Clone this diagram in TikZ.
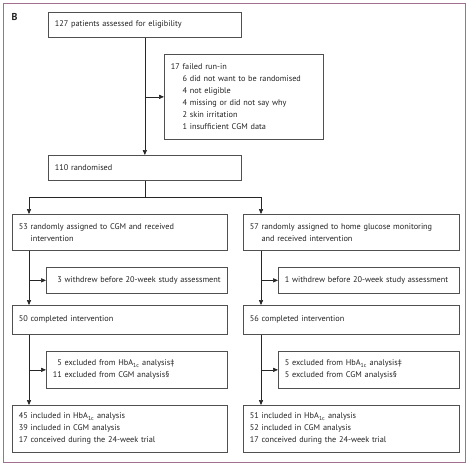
\documentclass[tikz,border=0pt]{standalone}
\usepackage{fontspec}
\setmainfont{PT Sans}
\usetikzlibrary{arrows.meta}
\definecolor{framemauve}{RGB}{160,112,142}
\definecolor{boxgray}{RGB}{80,80,80}
\definecolor{txtgray}{RGB}{35,35,35}
\tikzset{x=1pt, y=-1pt,
    every node/.style={font=\fontsize{8.25}{12}\selectfont, text=txtgray},
    box/.style={draw=boxgray, line width=0.7pt, anchor=north west,
        align=left, inner xsep=6.5pt, inner ysep=0pt},
    flow/.style={draw=black!85, line width=0.6pt,
        -{Triangle[length=5pt,width=4.2pt]}},
    plain/.style={draw=black!85, line width=0.6pt},
    }
\newcommand{\hba}{HbA\textsubscript{1c}}

\begin{document}
\begin{tikzpicture}
\useasboundingbox (0,0) rectangle (474,467);
\draw[framemauve, line width=0.8pt] (3,3) rectangle (465,462);
\node[anchor=west, font=\bfseries\fontsize{10}{11}\selectfont] (lbl) at (8,17) {B};

% screening
\node[box, text width=180pt, minimum height=25pt] (assess) at (48,12)
    {127 patients assessed for eligibility};
\node[box, text width=146pt, minimum height=85pt] (runin) at (164,54)
    {17 failed run-in\\
     \hphantom{17}\ 6 did not want to be randomised\\
     \hphantom{17}\ 4 not eligible\\
     \hphantom{17}\ 4 missing or did not say why\\
     \hphantom{17}\ 2 skin irritation\\
     \hphantom{17}\ 1 insufficient CGM data};
\node[box, text width=180pt, minimum height=25pt] (rand) at (48,155)
    {110 randomised};

% arms
\node[box, text width=202pt, minimum height=36pt] (cgm) at (12,214)
    {53 randomly assigned to CGM and received\\
     \hphantom{53}\ intervention};
\node[box, text width=203pt, minimum height=36pt] (hgm) at (243,214)
    {57 randomly assigned to home glucose monitoring\\
     \hphantom{57}\ and received intervention};
\node[box, text width=168pt, minimum height=26pt] (wdL) at (46,267)
    {\hphantom{1}3 withdrew before 20-week study assessment};
\node[box, text width=168pt, minimum height=26pt] (wdR) at (278,267)
    {1 withdrew before 20-week study assessment};
\node[box, text width=202pt, minimum height=29pt] (doneL) at (12,305)
    {50 completed intervention};
\node[box, text width=203pt, minimum height=29pt] (doneR) at (243,305)
    {56 completed intervention};
\node[box, text width=168pt, minimum height=37pt] (exL) at (46,351)
    {\hphantom{1}5 excluded from \hba{} analysis‡\\
     11 excluded from CGM analysis§};
\node[box, text width=168pt, minimum height=37pt] (exR) at (278,351)
    {5 excluded from \hba{} analysis‡\\
     5 excluded from CGM analysis§};
\node[box, text width=202pt, minimum height=47pt] (finL) at (12,405)
    {45 included in \hba{} analysis\\
     39 included in CGM analysis\\
     17 conceived during the 24-week trial};
\node[box, text width=203pt, minimum height=47pt] (finR) at (243,405)
    {51 included in \hba{} analysis\\
     52 included in CGM analysis\\
     17 conceived during the 24-week trial};

% connectors
\coordinate (split) at (145,197);
\coordinate (splitL) at (29,197);
\coordinate (splitR) at (261,197);
\draw[flow] (assess) -- (rand);
\draw[flow] (assess.south |- runin.west) -- (runin.west);
\draw[plain] (rand.south) -- (rand.south |- split);
\draw[plain] (splitL) -- (splitR);
\draw[flow] (splitL) -- (splitL |- cgm.north);
\draw[flow] (splitR) -- (splitR |- hgm.north);
\draw[flow] (splitL |- cgm.south) -- (splitL |- doneL.north);
\draw[flow] (splitR |- hgm.south) -- (splitR |- doneR.north);
\draw[flow] (splitL |- wdL.west) -- (wdL.west);
\draw[flow] (splitR |- wdR.west) -- (wdR.west);
\draw[flow] (splitL |- doneL.south) -- (splitL |- finL.north);
\draw[flow] (splitR |- doneR.south) -- (splitR |- finR.north);
\draw[flow] (splitL |- exL.west) -- (exL.west);
\draw[flow] (splitR |- exR.west) -- (exR.west);
\end{tikzpicture}
\end{document}
